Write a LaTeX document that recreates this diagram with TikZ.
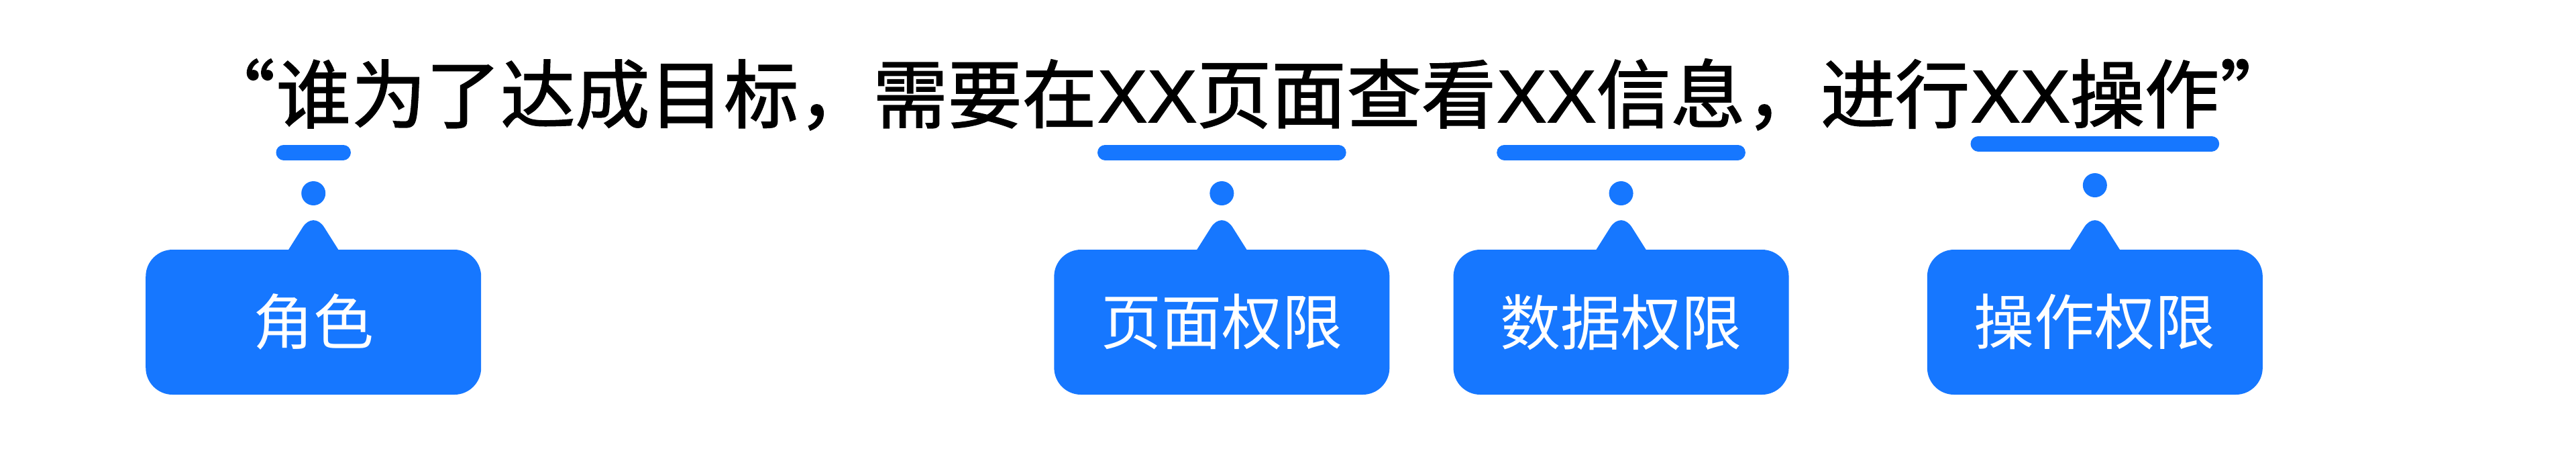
\documentclass[tikz,border=0pt]{standalone}
\usepackage{fontspec}
\newfontfamily\cnfont{Noto Sans CJK SC}[FakeBold=1.5]
\newfontfamily\tagfont{Noto Sans CJK SC}
\newfontfamily\xfont{Liberation Sans}[FakeBold=1.5]
\newcommand\xx{{\xfont XX}}
\usetikzlibrary{positioning}
\definecolor{tagblue}{HTML}{1677FF}
\tikzset{
  word/.style={inner sep=0pt, font=\fontsize{31.6}{38}\selectfont\cnfont},
  uline/.style={line width=2.3mm, line cap=round, tagblue, shorten <=1.2mm, shorten >=1.2mm},
  dot/.style={circle, fill=tagblue, inner sep=0pt, minimum size=3.6mm},
  tag/.style={fill=tagblue, rounded corners=4mm, minimum width=5cm, minimum height=2.16cm,
    text=white, font=\fontsize{25.6}{30}\selectfont\tagfont},
  beak/.style={fill=tagblue, rounded corners=3mm},
}
\begin{document}
\begin{tikzpicture}
  \useasboundingbox (0,0) rectangle (38.4,-6.74);
  % the sentence, cut where it is underlined
  \node[word, anchor=base west] (w1) at (4.11,-1.82) {谁};
  \node[word, base left=0pt of w1] (q1) {“};
  \node[word, base right=0pt of w1] (s1) {为了达成目标，需要在};
  \node[word, base right=0pt of s1] (w2) {\xx 页面};
  \node[word, base right=0pt of w2] (s2) {查看};
  \node[word, base right=0pt of s2] (w3) {\xx 信息};
  \node[word, base right=0pt of w3] (s3) {，进行};
  \node[word, base right=0pt of s3] (w4) {\xx 操作};
  \node[word, base right=0pt of w4] (q2) {”};
  % underlines
  \draw[uline] (w1.west |- 0,-2.27) -- (w1.east |- 0,-2.27);
  \draw[uline] (w2.west |- 0,-2.27) -- (w2.east |- 0,-2.27);
  \draw[uline] (w3.west |- 0,-2.27) -- (w3.east |- 0,-2.27);
  \draw[uline] (w4.west |- 0,-2.14) -- (w4.east |- 0,-2.14);
  % dots
  \node[dot] (d1) at (w1.center |- 0,-2.88) {};
  \node[dot] (d2) at (w2.center |- 0,-2.88) {};
  \node[dot] (d3) at (w3.center |- 0,-2.88) {};
  \node[dot] (d4) at (w4.center |- 0,-2.76) {};
  % tags
  \node[tag] (t1) at (d1 |- 0,-4.80) {角色};
  \node[tag] (t2) at (d2 |- 0,-4.80) {页面权限};
  \node[tag] (t3) at (d3 |- 0,-4.80) {数据权限};
  \node[tag] (t4) at (d4 |- 0,-4.80) {操作权限};
  \fill[beak] ([xshift=-6.2mm,yshift=-4mm]t1.north) -- ([yshift=5.8mm]t1.north) -- ([xshift=6.2mm,yshift=-4mm]t1.north) -- cycle;
  \fill[beak] ([xshift=-6.2mm,yshift=-4mm]t2.north) -- ([yshift=5.8mm]t2.north) -- ([xshift=6.2mm,yshift=-4mm]t2.north) -- cycle;
  \fill[beak] ([xshift=-6.2mm,yshift=-4mm]t3.north) -- ([yshift=5.8mm]t3.north) -- ([xshift=6.2mm,yshift=-4mm]t3.north) -- cycle;
  \fill[beak] ([xshift=-6.2mm,yshift=-4mm]t4.north) -- ([yshift=5.8mm]t4.north) -- ([xshift=6.2mm,yshift=-4mm]t4.north) -- cycle;
\end{tikzpicture}
\end{document}
